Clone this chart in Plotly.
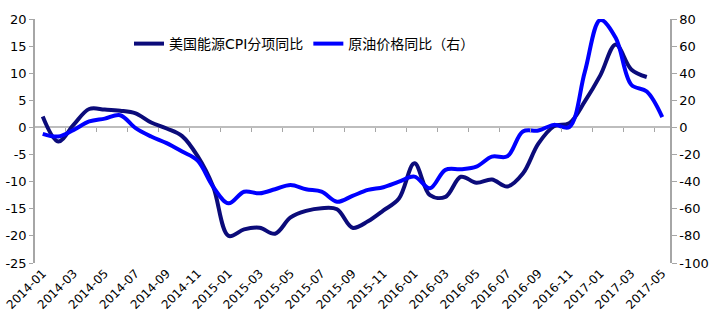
import pandas as pd
import plotly.graph_objects as go

# Monthly categories 2014-01 .. 2017-05
months = [d.strftime("%Y-%m") for d in pd.date_range("2014-01-01", "2017-05-01", freq="MS")]

# US energy CPI component, YoY % (left axis), through 2017-04
cpi_energy = [2.0, -2.6, 0.5, 3.4, 3.3, 3.1, 2.6, 0.9, -0.2, -1.6,
              -5.3, -10.9, -20.0, -18.8, -18.5, -19.6, -16.6, -15.4, -14.9, -15.1,
              -18.5, -17.3, -15.3, -13.1, -6.6, -12.5, -12.8, -9.1, -10.2, -9.6,
              -10.9, -8.5, -3.0, 0.2, 0.8, 4.8, 9.6, 15.3, 10.7, 9.3]

# Crude oil price YoY % (right axis), through 2017-05
crude_oil = [-4.7, -6.7, -1.8, 4.4, 6.5, 9.0, -0.5, -6.7, -11.6, -17.8,
             -24.5, -43.7, -56.0, -47.4, -48.6, -45.6, -42.4, -45.6, -47.4, -54.8,
             -50.5, -46.1, -44.1, -40.0, -36.3, -44.9, -31.3, -30.8, -28.9, -21.5,
             -21.3, -3.0, -2.3, 1.9, 0.3, 41.0, 79.3, 66.0, 31.5, 26.5, 7.6]

left_ticks = [-25, -20, -15, -10, -5, 0, 5, 10, 15, 20]
right_ticks = [-100, -80, -60, -40, -20, 0, 20, 40, 60, 80]

name_cpi = "美国能源CPI分项同比"
name_oil = "原油价格同比（右）"

FONT = "DejaVu Sans, Noto Sans CJK SC, sans-serif"
AXIS_GRAY = "#a6a6a6"

idx = list(range(len(months)))

fig = go.Figure()
fig.add_trace(go.Scatter(
    x=idx[:len(cpi_energy)], y=cpi_energy, name=name_cpi, mode="lines",
    line=dict(color="#0b0b7a", width=4, shape="spline", smoothing=1.0),
    yaxis="y", xaxis="x", cliponaxis=False,
))
fig.add_trace(go.Scatter(
    x=idx, y=crude_oil, name=name_oil, mode="lines",
    line=dict(color="#0000ff", width=4, shape="spline", smoothing=1.0),
    yaxis="y2", xaxis="x", cliponaxis=False,
))
# empty helper trace so the zero-line tick axis is drawn
fig.add_trace(go.Scatter(x=[], y=[], xaxis="x2", yaxis="y", showlegend=False,
                         hoverinfo="skip"))

xr = [-0.5, len(months) - 0.5]
fig.update_layout(
    width=709, height=324,
    margin=dict(l=35, r=39, t=19, b=61),
    paper_bgcolor="white", plot_bgcolor="white",
    font=dict(family=FONT, size=13, color="#000000"),
    showlegend=True,
    legend=dict(orientation="h", x=0.148, y=0.8975, xanchor="left", yanchor="middle",
                bgcolor="rgba(0,0,0,0)", font=dict(size=14), itemwidth=30),
    xaxis=dict(range=xr, tickvals=idx[::2], ticktext=months[::2], tickangle=-45,
               showgrid=False, zeroline=False, showline=False, ticks="",
               tickfont=dict(size=12), anchor="y", automargin=False),
    xaxis2=dict(range=xr, overlaying="x", anchor="free", position=25 / 45,
                tickvals=[k - 0.5 for k in range(2, len(months), 2)],
                ticks="outside", ticklen=4, tickcolor=AXIS_GRAY, tickwidth=1,
                showticklabels=False, showgrid=False, zeroline=False, showline=False,
                automargin=False),
    yaxis=dict(range=[-25, 20], tickvals=left_ticks,
               ticktext=[str(v) for v in left_ticks], showgrid=False,
               zeroline=True, zerolinecolor="#bdbdbd", zerolinewidth=2,
               showline=True, linecolor=AXIS_GRAY, linewidth=1.5,
               ticks="outside", ticklen=4, tickcolor=AXIS_GRAY, automargin=False),
    yaxis2=dict(range=[-100, 80], tickvals=right_ticks,
                ticktext=[str(v) for v in right_ticks],
                overlaying="y", side="right",
                showgrid=False, zeroline=False,
                showline=True, linecolor=AXIS_GRAY, linewidth=1.5,
                ticks="outside", ticklen=5, tickcolor=AXIS_GRAY, automargin=False),
)

fig.write_html("out.html")
